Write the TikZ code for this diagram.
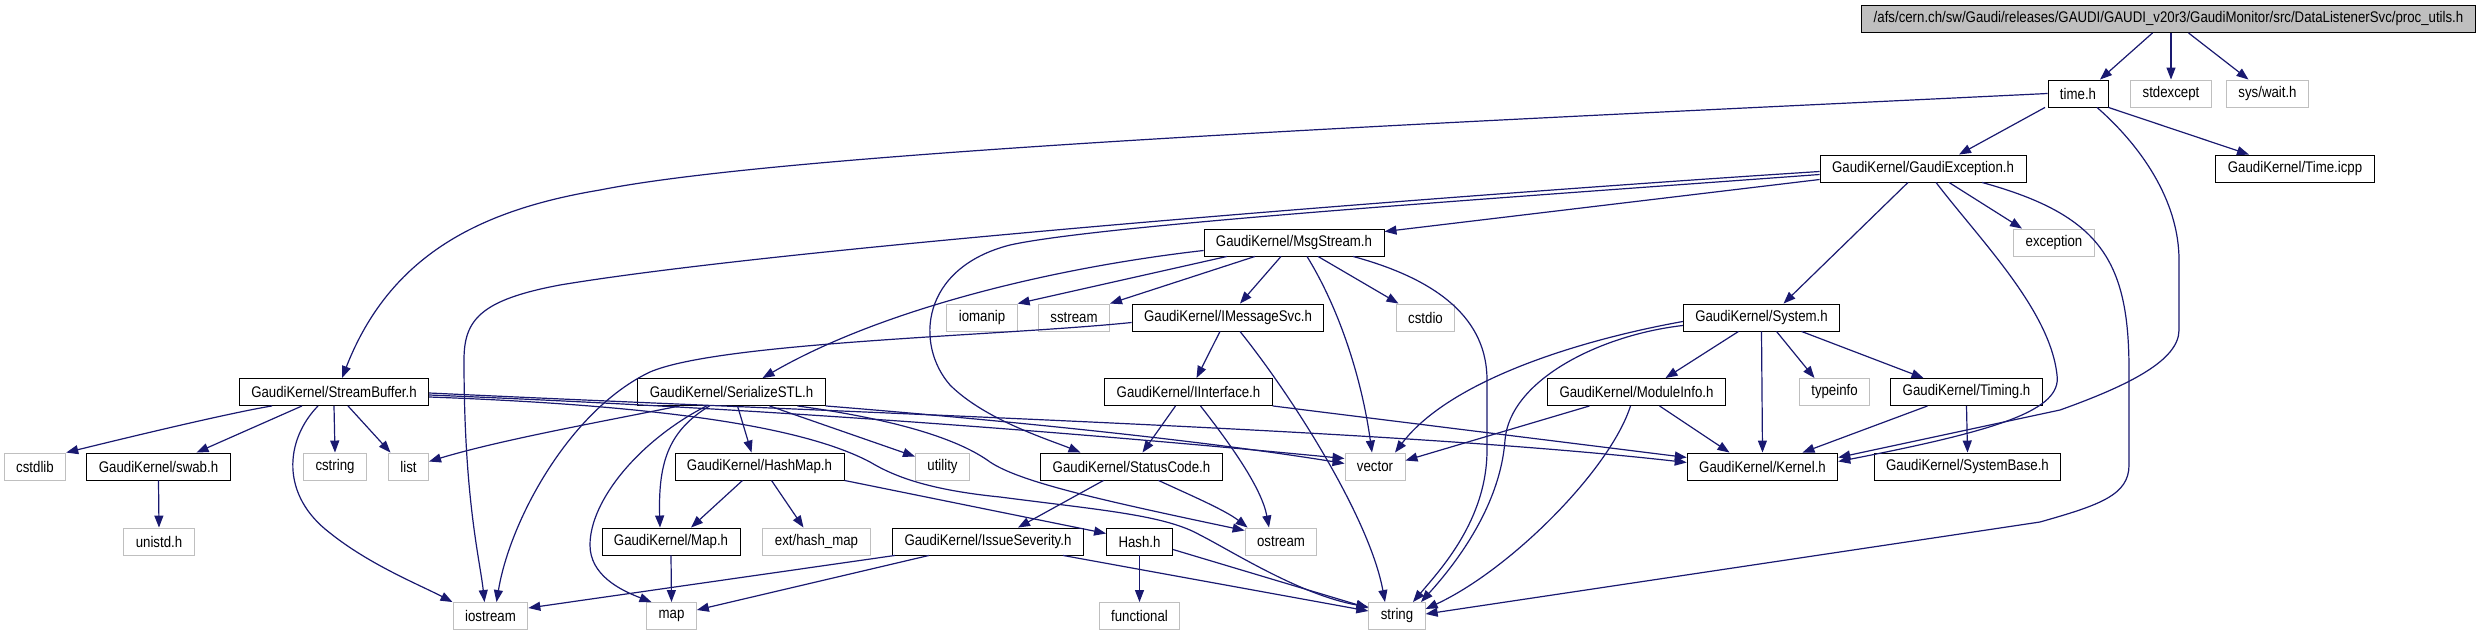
\documentclass[tikz,border=0pt]{standalone}
\usepackage{fontspec}
\setmainfont[FakeStretch=0.86]{Liberation Sans}
\usetikzlibrary{arrows.meta}

\definecolor{edgeblue}{HTML}{191970}
\definecolor{sysgray}{HTML}{BFBFBF}

\tikzset{
  hdr/.style={draw=black, line width=0.9pt, minimum height=27pt, inner xsep=12pt, inner ysep=2pt,
    font=\fontsize{15.4}{18}\selectfont},
  sys/.style={hdr, draw=sysgray},
  mainfile/.style={hdr, fill=sysgray},
  inc/.style={->, draw=edgeblue, line width=1.2pt},
}

\begin{document}
\begin{tikzpicture}[x=1pt, y=-1pt, >={Triangle[length=12pt,width=9pt]}]
  \useasboundingbox (0,0) rectangle (2482,634);

  % Dateien
  \node[mainfile] (proc) at (2168.5,19) {/afs/cern.ch/sw/Gaudi/releases/GAUDI/GAUDI\_v20r3/GaudiMonitor/src/DataListenerSvc/proc\_utils.h};

  \node[hdr] (time) at (2078,93.5) {time.h};
  \node[sys] (stdexcept) at (2171,93.5) {stdexcept};
  \node[sys] (syswait) at (2267.5,93.5) {sys/wait.h};

  \node[hdr] (gexc) at (1923,168.5) {GaudiKernel/GaudiException.h};
  \node[hdr] (timeicpp) at (2295,168.5) {GaudiKernel/Time.icpp};

  \node[hdr] (msgstream) at (1294,242.5) {GaudiKernel/MsgStream.h};
  \node[sys] (exception) at (2054,242.5) {exception};

  \node[sys] (iomanip) at (982,317.5) {iomanip};
  \node[sys] (sstream) at (1074,317.5) {sstream};
  \node[hdr] (imsgsvc) at (1228,317.5) {GaudiKernel/IMessageSvc.h};
  \node[sys] (cstdio) at (1425.5,317.5) {cstdio};
  \node[hdr] (system) at (1761.5,317.5) {GaudiKernel/System.h};

  \node[hdr] (streambuf) at (334,392) {GaudiKernel/StreamBuffer.h};
  \node[hdr] (serialize) at (731.5,392) {GaudiKernel/SerializeSTL.h};
  \node[hdr] (iinterface) at (1188.5,392) {GaudiKernel/IInterface.h};
  \node[hdr] (moduleinfo) at (1636.5,392) {GaudiKernel/ModuleInfo.h};
  \node[sys] (typeinfo) at (1834.5,392) {typeinfo};
  \node[hdr] (timing) at (1966.5,392) {GaudiKernel/Timing.h};

  \node[sys] (cstdlib) at (35,466.5) {cstdlib};
  \node[hdr] (swab) at (158.5,466.5) {GaudiKernel/swab.h};
  \node[sys] (cstring) at (335,466.5) {cstring};
  \node[sys] (list) at (408.5,466.5) {list};
  \node[hdr] (hashmap) at (759.5,466.5) {GaudiKernel/HashMap.h};
  \node[sys] (utility) at (942.5,466.5) {utility};
  \node[hdr] (statuscode) at (1131.5,466.5) {GaudiKernel/StatusCode.h};
  \node[sys] (vector) at (1375,466.5) {vector};
  \node[hdr] (kernel) at (1762.5,466.5) {GaudiKernel/Kernel.h};
  \node[hdr] (systembase) at (1967.5,466.5) {GaudiKernel/SystemBase.h};

  \node[sys] (unistd) at (159,541.5) {unistd.h};
  \node[hdr] (maph) at (671,541.5) {GaudiKernel/Map.h};
  \node[sys] (exthashmap) at (816.5,541.5) {ext/hash\_map};
  \node[hdr] (severity) at (988,541.5) {GaudiKernel/IssueSeverity.h};
  \node[hdr] (hash) at (1139.5,541.5) {Hash.h};
  \node[sys] (ostream) at (1281,541.5) {ostream};

  \node[sys] (iostream) at (490.5,616) {iostream};
  \node[sys] (map) at (671.5,616) {map};
  \node[sys] (functional) at (1139.5,616) {functional};
  \node[sys] (string) at (1397,616) {string};

  % proc_utils.h
  \draw[inc] ([xshift=-16pt]proc.south) -- ([xshift=22pt]time.north);
  \draw[inc] (proc.south -| stdexcept.north) -- (stdexcept.north);
  \draw[inc] ([xshift=20pt]proc.south) -- ([xshift=-19pt]syswait.north);

  % time.h
  \draw[inc] (time.west) .. controls (1500,120) and (800,150) .. (600,190)
    .. controls (480,210) and (390,255) .. ([xshift=8pt]streambuf.north);
  \draw[inc] ([xshift=-33pt]time.south) -- ([xshift=36pt]gexc.north);
  \draw[inc] (time.south east) -- ([xshift=-46pt]timeicpp.north);
  \draw[inc] ([xshift=19pt]time.south) .. controls (2140,145) and (2179,200) .. (2179,260) -- (2179,330)
    .. controls (2179,360) and (2130,385) .. (2060,410) -- ([yshift=9pt]kernel.east);

  % GaudiException.h
  \draw[inc] ([yshift=-11pt]gexc.west) -- ([yshift=-3pt]msgstream.north east);
  \draw[inc] ([xshift=-15pt]gexc.south) -- ([xshift=22pt]system.north);
  \draw[inc] ([xshift=26pt]gexc.south) -- ([xshift=-32pt]exception.north);
  \draw[inc] ([xshift=13pt]gexc.south) .. controls (1980,240) and (2050,310) .. (2057,375)
    .. controls (2062,410) and (2000,430) .. ([yshift=5pt]kernel.east);
  \draw[inc] ([xshift=59pt]gexc.south) .. controls (2100,215) and (2129,260) .. (2129,370) -- (2129,465)
    .. controls (2129,495) and (2100,505) .. (2040,522) -- ([yshift=2pt]string.east);
  \draw[inc] ([yshift=-3pt]gexc.west) .. controls (1500,192) and (800,245) .. (560,285)
    .. controls (480,300) and (464,320) .. (464,360) .. controls (464,500) and (480,560) .. ([xshift=-6pt]iostream.north);
  \draw[inc] ([yshift=-6pt]gexc.west) .. controls (1500,198) and (1100,225) .. (1010,245)
    .. controls (920,268) and (915,345) .. (950,385) .. controls (985,420) and (1050,440) .. ([xshift=-51pt]statuscode.north);

  % MsgStream.h
  \draw[inc] ([yshift=-8pt]msgstream.west) .. controls (1050,268) and (880,310) .. ([xshift=31pt]serialize.north);
  \draw[inc] ([xshift=-67pt]msgstream.south) -- (iomanip.north east);
  \draw[inc] ([xshift=-39pt]msgstream.south) -- (sstream.north east);
  \draw[inc] ([xshift=-13pt]msgstream.south) -- ([xshift=12pt]imsgsvc.north);
  \draw[inc] ([xshift=24pt]msgstream.south) -- ([xshift=-27pt]cstdio.north);
  \draw[inc] ([xshift=13pt]msgstream.south) .. controls (1340,310) and (1362,380) .. ([xshift=-3pt]vector.north);
  \draw[inc] ([xshift=59pt]msgstream.south) .. controls (1440,280) and (1487,320) .. (1487,380) -- (1487,450)
    .. controls (1487,520) and (1440,570) .. ([xshift=16pt]string.north);

  % IMessageSvc.h
  \draw[inc] ([xshift=-8pt]imsgsvc.south) -- ([xshift=8pt]iinterface.north);
  \draw[inc] ([xshift=12pt]imsgsvc.south) .. controls (1295,400) and (1370,520) .. ([xshift=-12pt]string.north);
  \draw[inc] ([yshift=-5pt]imsgsvc.west) .. controls (1000,336) and (720,342) .. (650,372)
    .. controls (570,410) and (510,520) .. ([xshift=6pt]iostream.north);

  % System.h
  \draw[inc] ([xshift=-23pt]system.south) -- ([xshift=29pt]moduleinfo.north);
  \draw[inc] (system.south) -- (kernel.north);
  \draw[inc] ([xshift=15pt]system.south) -- ([xshift=-20pt]typeinfo.north);
  \draw[inc] ([xshift=40pt]system.south) -- ([xshift=-43pt]timing.north);
  \draw[inc] ([yshift=-4pt]system.west) .. controls (1580,340) and (1450,380) .. ([xshift=20pt]vector.north);
  \draw[inc] ([yshift=-8pt]system.west) .. controls (1600,335) and (1510,380) .. (1505,440)
    .. controls (1500,510) and (1450,570) .. ([xshift=24pt]string.north);

  % ModuleInfo.h, Timing.h, IInterface.h
  \draw[inc] ([xshift=-47pt]moduleinfo.south) -- ([yshift=6pt]vector.east);
  \draw[inc] ([xshift=-6pt]moduleinfo.south) .. controls (1610,470) and (1510,570) .. ([yshift=7pt]string.east);
  \draw[inc] ([xshift=23pt]moduleinfo.south) -- ([xshift=-33pt]kernel.north);
  \draw[inc] ([xshift=-39pt]timing.south) -- ([xshift=40pt]kernel.north);
  \draw[inc] (timing.south) -- (systembase.north);
  \draw[inc] ([xshift=-13pt]iinterface.south) -- ([xshift=11pt]statuscode.north);
  \draw[inc] ([xshift=12pt]iinterface.south) .. controls (1235,450) and (1262,490) .. ([xshift=-12pt]ostream.north);
  \draw[inc] (iinterface.south east) -- ([yshift=9pt]kernel.west);

  % StreamBuffer.h
  \draw[inc] ([xshift=-62pt]streambuf.south) .. controls (235,412) and (150,432) .. (cstdlib.north east);
  \draw[inc] ([xshift=-32pt]streambuf.south) -- ([xshift=38pt]swab.north);
  \draw[inc] (streambuf.south) -- (cstring.north);
  \draw[inc] ([xshift=14pt]streambuf.south) -- ([xshift=-18pt]list.north);
  \draw[inc] ([xshift=-16pt]streambuf.south) .. controls (285,440) and (280,495) .. (330,533)
    .. controls (370,565) and (420,585) .. ([xshift=-38pt]iostream.north);
  \draw[inc] ([yshift=-3pt]streambuf.east) .. controls (800,410) and (1100,435) .. ([yshift=8pt]vector.west);
  \draw[inc] ([yshift=-1pt]streambuf.east) .. controls (900,415) and (1400,430) .. ([yshift=4pt]kernel.west);
  \draw[inc] ([yshift=-5pt]streambuf.east) .. controls (650,405) and (800,425) .. (870,462)
    .. controls (895,477) and (930,490) .. (1000,497) .. controls (1100,510) and (1165,515) .. (1200,535)
    .. controls (1230,550) and (1300,595) .. ([yshift=9pt]string.west);

  % SerializeSTL.h
  \draw[inc] ([xshift=-52pt]serialize.south) .. controls (600,422) and (500,440) .. ([yshift=5pt]list.east);
  \draw[inc] ([xshift=-25pt]serialize.south) .. controls (640,440) and (590,500) .. (590,545)
    .. controls (590,575) and (620,590) .. ([xshift=-20pt]map.north);
  \draw[inc] ([xshift=-22pt]serialize.south) .. controls (670,430) and (658,460) .. ([xshift=-11pt]maph.north);
  \draw[inc] ([xshift=6pt]serialize.south) -- ([xshift=-8pt]hashmap.north);
  \draw[inc] ([xshift=38pt]serialize.south) -- ([yshift=10pt]utility.west);
  \draw[inc] (serialize.south east) .. controls (1000,420) and (1200,440) .. ([yshift=3pt]vector.west);
  \draw[inc] ([xshift=66pt]serialize.south) .. controls (900,420) and (960,440) .. (990,462)
    .. controls (1020,482) and (1100,500) .. ([yshift=11pt]ostream.west);

  % HashMap.h, StatusCode.h, IssueSeverity.h, Hash.h
  \draw[inc] ([xshift=-17pt]hashmap.south) -- ([xshift=20pt]maph.north);
  \draw[inc] ([xshift=12pt]hashmap.south) -- ([xshift=-13pt]exthashmap.north);
  \draw[inc] (hashmap.south east) -- ([yshift=8pt]hash.west);
  \draw[inc] ([xshift=-28pt]statuscode.south) -- ([xshift=30pt]severity.north);
  \draw[inc] ([xshift=27pt]statuscode.south) .. controls (1190,495) and (1225,510) .. ([xshift=3pt]ostream.north west);
  \draw[inc] ([xshift=-93pt]severity.south) -- ([yshift=8pt]iostream.east);
  \draw[inc] ([xshift=-59pt]severity.south) -- ([yshift=6pt]map.east);
  \draw[inc] ([xshift=75pt]severity.south) -- ([yshift=5pt]string.west);
  \draw[inc] (hash.south) -- (functional.north);
  \draw[inc] ([yshift=-8pt]hash.east) -- ([yshift=8pt]string.west);

  % Map.h, swab.h
  \draw[inc] (maph.south) -- (map.north);
  \draw[inc] (swab.south) -- (unistd.north);
\end{tikzpicture}
\end{document}
